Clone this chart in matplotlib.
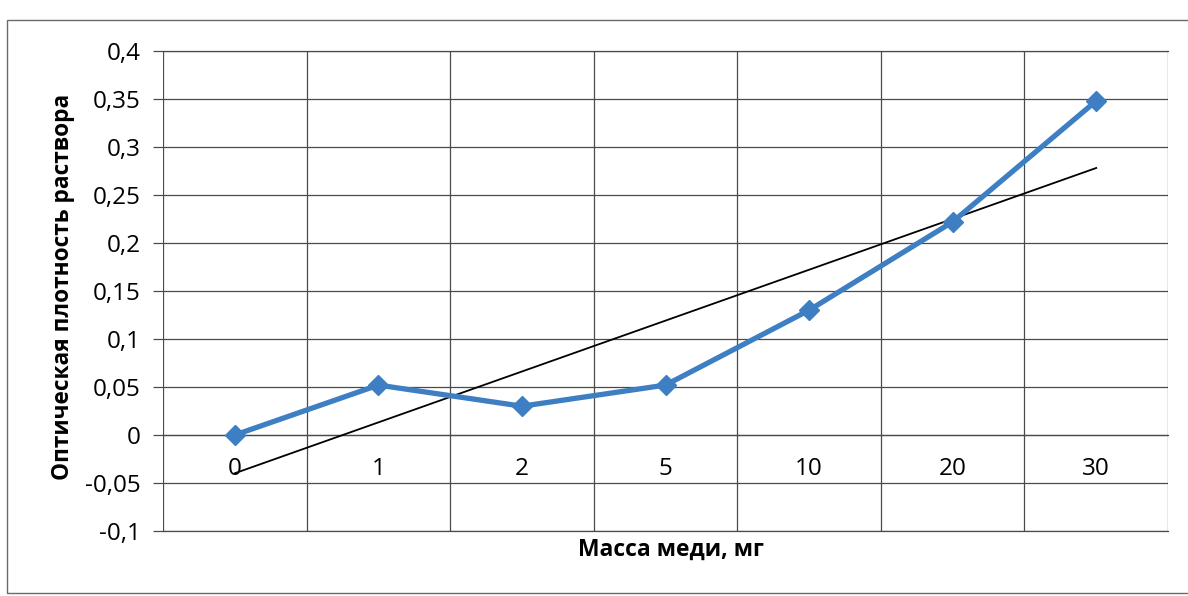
import numpy as np
import matplotlib
matplotlib.use("Agg")
import matplotlib.pyplot as plt
from matplotlib.patches import Rectangle

categories = ["0", "1", "2", "5", "10", "20", "30"]
values = [0.0, 0.052, 0.030, 0.052, 0.130, 0.222, 0.348]
yticks = [-0.1, -0.05, 0, 0.05, 0.1, 0.15, 0.2, 0.25, 0.3, 0.35, 0.4]
ytick_labels = ["-0,1", "-0,05", "0", "0,05", "0,1", "0,15", "0,2", "0,25", "0,3", "0,35", "0,4"]

plt.rcParams['font.family'] = ['Open Sans', 'DejaVu Sans']

W, H = 1188, 596
fig = plt.figure(figsize=(W / 100, H / 100), dpi=100)
fig.patch.set_facecolor('white')

# chart border
fig.patches.append(Rectangle((7 / W, 1 - 593 / H), (W + 20) / W, (593 - 20) / H,
                             transform=fig.transFigure, fill=False,
                             edgecolor='#6a6a6a', lw=1.0))

ax = fig.add_axes([163 / W, 1 - 531 / H, 1005 / W, 480 / H])
x = np.arange(1, len(categories) + 1)
ax.set_xlim(0.5, len(categories) + 0.5)
ax.set_ylim(-0.1, 0.4)

gcol = '#4a4a4a'
ax.set_yticks(yticks)
ax.set_yticklabels(ytick_labels)
ax.set_xticks(x)
ax.set_xticklabels(categories)
ax.set_xticks(np.arange(0.5, len(categories) + 1), minor=True)
ax.grid(axis='y', which='major', color=gcol, lw=0.9)
ax.grid(axis='x', which='minor', color=gcol, lw=0.9)
ax.grid(axis='x', which='major', visible=False)
ax.axhline(-0.1, color=gcol, lw=0.9, clip_on=False)
ax.axhline(0.4, color=gcol, lw=0.9, clip_on=False)

for s in ['top', 'right', 'left']:
    ax.spines[s].set_visible(False)
ax.spines['bottom'].set_position(('data', 0))
ax.spines['bottom'].set_color(gcol)
ax.spines['bottom'].set_linewidth(0.9)

ax.tick_params(axis='y', length=7, width=0.9, color=gcol, labelsize=17.5, pad=9)
ax.tick_params(axis='x', which='major', length=0, labelsize=17.5, pad=16)
ax.tick_params(axis='x', which='minor', length=0)

# trendline (linear least squares)
k, b = np.polyfit(x, values, 1)
ax.plot(x, k * x + b, color='black', lw=1.3, zorder=3)

ax.plot(x, values, color='#3d7fc2', lw=3.8, marker='D', markersize=10.5,
        markerfacecolor='#3d7fc2', markeredgecolor='#3d7fc2', zorder=4,
        clip_on=False)

fig.text(63 / W, 1 - 287 / H, "Оптическая плотность раствора", rotation=90,
         ha='center', va='center', fontsize=16.3, fontweight='bold')
fig.text(671 / W, 1 - 550 / H, "Масса меди, мг", ha='center', va='center',
         fontsize=16.5, fontweight='bold')

fig.savefig("out.png", dpi=100, facecolor='white')
